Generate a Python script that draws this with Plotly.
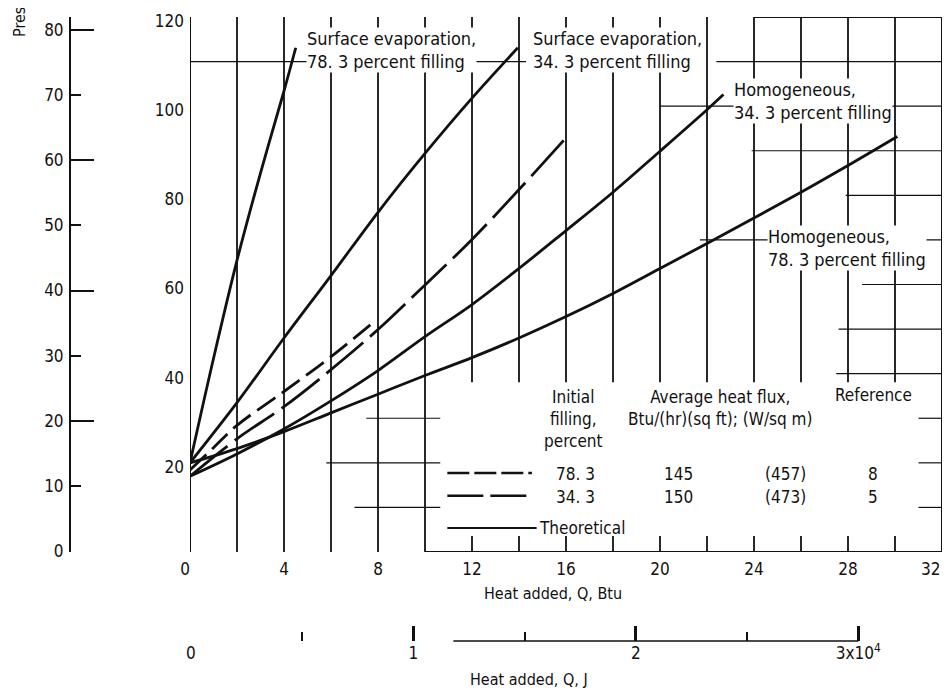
import plotly.graph_objects as go

# ---------------- data ----------------
# Theoretical curves (solid)
Q_surf_783 = [0, 1, 2, 3, 4, 4.5]
P_surf_783 = [20, 43.4, 65.4, 85, 103.4, 113.1]
Q_surf_343 = [0, 2, 4, 6, 8, 10, 12, 13.95]
P_surf_343 = [20, 33.5, 48, 62, 76.2, 89.4, 101.8, 113.1]
Q_homo_343 = [0, 2, 4, 6, 8, 10, 12, 14, 16, 18, 20, 22, 22.7]
P_homo_343 = [17, 22, 27.6, 33.9, 40.7, 48.3, 55.5, 63.6, 72.1, 80.7, 89.9, 99.2, 102.6]
Q_homo_783 = [0, 2, 4, 6, 8, 10, 12, 14, 16, 18, 20, 22, 24, 26, 28, 30.1]
P_homo_783 = [20, 23.2, 27, 31.2, 35.4, 39.6, 43.6, 48, 52.8, 58, 63.6, 69.2, 74.9, 80.7, 86.7, 93.2]
# Experimental curves (dashed)
Q_exp_783 = [0, 1, 2, 4, 6, 7.85]
P_exp_783 = [18.4, 23.4, 28.4, 36, 43.8, 51.7]
Q_exp_343 = [0, 2, 4, 6, 8, 10, 12, 14, 16]
P_exp_343 = [17, 25.4, 32.6, 40.9, 49.9, 59.9, 70.1, 81.3, 92.9]

x_ticks = [0, 4, 8, 12, 16, 20, 24, 28, 32]
x_tick_labels = ["0", "4", "8", "12", "16", "20", "24", "28", "32"]
y_ticks = [20, 40, 60, 80, 100, 120]
left_ticks = [0, 10, 20, 30, 40, 50, 60, 70, 80]
left_major = [0, 20, 40, 60, 80]
j_ticks = [0, 1, 2, 3]
j_labels = ["0", "1", "2", "3x10<sup>4</sup>"]
j_minor = [0.5, 1.5, 2.5]

legend_fill = ["78. 3", "34. 3"]
legend_flux_btu = ["145", "150"]
legend_flux_si = ["(457)", "(473)"]
legend_ref = ["8", "5"]

BTU_TO_J = 1055.06
X_MAX = 32
Y_MAX = 120

FONT = "DejaVu Sans Condensed, Liberation Sans Narrow, Roboto, sans-serif"
BLACK = "#111111"
NBSP = "\u00a0"

# page body has an 8px margin; size the figure to fill the rest of the window
OFF = 8
WIN_W, WIN_H = 951, 694
W, H = WIN_W - OFF, WIN_H - OFF


def px_x(px):
    """window pixel -> paper x"""
    return (px - OFF) / W


def px_y(py):
    """window pixel -> paper y"""
    return (WIN_H - py) / H


fig = go.Figure()

curve = dict(color=BLACK, width=2.8, shape="spline")
fig.add_trace(go.Scatter(x=Q_surf_783, y=P_surf_783, mode="lines", line=curve, showlegend=False))
fig.add_trace(go.Scatter(x=Q_surf_343, y=P_surf_343, mode="lines", line=curve, showlegend=False))
fig.add_trace(go.Scatter(x=Q_homo_343, y=P_homo_343, mode="lines", line=curve, showlegend=False))
fig.add_trace(go.Scatter(x=Q_homo_783, y=P_homo_783, mode="lines", line=curve, showlegend=False))
fig.add_trace(go.Scatter(x=Q_exp_783, y=P_exp_783, mode="lines",
                         line=dict(color=BLACK, width=2.8, dash="22px,8px", shape="spline"), showlegend=False))
fig.add_trace(go.Scatter(x=Q_exp_343, y=P_exp_343, mode="lines",
                         line=dict(color=BLACK, width=2.8, dash="48px,9px", shape="spline"), showlegend=False))

shapes = []
# vertical grid lines every 2 Btu
for gx in range(2, X_MAX, 2):
    shapes.append(dict(type="line", xref="x", yref="y", x0=gx, x1=gx, y0=0, y1=Y_MAX,
                       line=dict(color=BLACK, width=1.8), layer="below"))
# left axis and right border
shapes.append(dict(type="line", xref="x", yref="y", x0=0, x1=0, y0=0, y1=Y_MAX,
                   line=dict(color=BLACK, width=2), layer="below"))
shapes.append(dict(type="line", xref="x", yref="y", x0=X_MAX, x1=X_MAX, y0=0, y1=Y_MAX,
                   line=dict(color=BLACK, width=2), layer="below"))
# white area behind the legend table
shapes.append(dict(type="rect", xref="x", yref="y", x0=10.65, x1=31.0, y0=3.6, y1=38.1,
                   fillcolor="white", line=dict(width=0), layer="below"))
# partial horizontal grid lines (as printed)
hsegs = [(120, 24.0, 32), (110, 0, 14.3), (110, 22.4, 32), (100, 20, 32), (90, 23.9, 32),
         (80, 27.9, 32), (70, 21.7, 32), (60, 28.6, 32), (50, 27.6, 32), (40, 27.5, 32),
         (30, 7.5, 10.65), (30, 31.0, 32), (20, 5.8, 10.65), (20, 31.0, 32),
         (10, 7.0, 10.65), (10, 31.0, 32)]
for yy, a, b in hsegs:
    w = 2 if yy == 120 else 1.2
    shapes.append(dict(type="line", xref="x", yref="y", x0=a, x1=b, y0=yy, y1=yy,
                       line=dict(color=BLACK, width=w), layer="below"))
# bottom border
shapes.append(dict(type="line", xref="x", yref="y", x0=10, x1=X_MAX, y0=0, y1=0,
                   line=dict(color=BLACK, width=2), layer="below"))
# legend sample lines
shapes.append(dict(type="line", xref="x", yref="y", x0=10.95, x1=14.55, y0=17.7, y1=17.7,
                   line=dict(color=BLACK, width=2.5, dash="22px,5px")))
shapes.append(dict(type="line", xref="x", yref="y", x0=10.95, x1=14.55, y0=12.6, y1=12.6,
                   line=dict(color=BLACK, width=2.5, dash="36px,7px")))
shapes.append(dict(type="line", xref="x", yref="y", x0=10.95, x1=14.75, y0=5.4, y1=5.4,
                   line=dict(color=BLACK, width=2)))
# Joule scale line (partial, as printed)
J_LINE_Y = px_y(641)
shapes.append(dict(type="line", xref="x2", yref="paper", x0=1.18, x1=3.0, y0=J_LINE_Y, y1=J_LINE_Y,
                   line=dict(color=BLACK, width=1.5)))

fig.update_layout(shapes=shapes)

ann = []


def label(text, x, y, anchor="left", size=18, bg="white"):
    ann.append(dict(text=text, x=x, y=y, xref="x", yref="y", showarrow=False,
                    xanchor=anchor, yanchor="middle", align=anchor,
                    font=dict(family=FONT, size=size, color=BLACK), bgcolor=bg, borderpad=0))


label("Surface evaporation,<br>78. 3 percent filling", 4.95, 112.6)
label("Surface evaporation,<br>34. 3 percent filling", 14.55, 112.6)
label("Homogeneous,<br>34. 3 percent filling", 23.1, 101.2)
label("Homogeneous,<br>78. 3 percent filling", 24.55, 68.2)

label("Initial<br>filling,<br>percent", 16.3, 29.8, anchor="center", size=17, bg=None)
label("Average heat flux,<br>Btu/(hr)(sq ft); (W/sq m)", 22.55, 32.4, anchor="center", size=17, bg=None)
label("Reference", 29.1, 35.2, anchor="center", size=17, bg=None)
rows_y = [17.5, 12.3]
for i in range(2):
    label(legend_fill[i], 16.4, rows_y[i], anchor="center", size=17, bg=None)
    label(legend_flux_btu[i], 20.8, rows_y[i], anchor="center", size=17, bg=None)
    label(legend_flux_si[i], 25.35, rows_y[i], anchor="center", size=17, bg=None)
    label(legend_ref[i], 29.05, rows_y[i], anchor="center", size=17, bg=None)
label("Theoretical", 14.8, 5.4, anchor="left", size=17, bg=None)

# last x tick label sits inside the right edge, as printed
ann.append(dict(text=x_tick_labels[-1], x=x_ticks[-1], y=px_y(569), xref="x", yref="paper",
                showarrow=False, xanchor="right", yanchor="middle",
                font=dict(family=FONT, size=17, color=BLACK)))

# axis titles
ann.append(dict(text="Heat added, Q, Btu", x=px_x(553), y=px_y(593),
                xref="paper", yref="paper", showarrow=False, xanchor="center", yanchor="middle",
                font=dict(family=FONT, size=16, color=BLACK)))
ann.append(dict(text="Heat added, Q, J", x=px_x(529), y=px_y(679),
                xref="paper", yref="paper", showarrow=False, xanchor="center", yanchor="middle",
                font=dict(family=FONT, size=16, color=BLACK)))
ann.append(dict(text="Pres", x=px_x(19), y=px_y(22), xref="paper", yref="paper",
                showarrow=False, xanchor="center", yanchor="middle",
                textangle=-90, font=dict(family=FONT, size=16, color=BLACK)))
fig.update_layout(annotations=ann)

# axis-drawn labels (first one nudged inward as printed; last one drawn as annotation above)
axis_x_vals = x_ticks[:-1]
axis_x_text = list(x_tick_labels[:-1])
axis_x_text[0] = axis_x_text[0] + NBSP * 2

tickfont = dict(family=FONT, size=17, color=BLACK)
LEFT_RANGE = [-0.15, 82.0]
J_MAX = X_MAX * BTU_TO_J / 1e4
fig.update_layout(
    width=W, height=H,
    margin=dict(l=0, r=0, t=0, b=0, autoexpand=False),
    paper_bgcolor="white", plot_bgcolor="white",
    xaxis=dict(domain=[px_x(190), px_x(942)], range=[0, X_MAX], tickvals=axis_x_vals,
               ticktext=axis_x_text,
               showgrid=False, zeroline=False, anchor="y", automargin=False,
               showline=False, ticks="", tickfont=tickfont, ticklabelstandoff=5,
               ticklabeloverflow="allow"),
    yaxis=dict(domain=[px_y(552), px_y(17)], range=[0, Y_MAX], tickvals=y_ticks,
               showgrid=False, zeroline=False, anchor="x", automargin=False,
               showline=False, ticks="", tickfont=tickfont, ticklabelstandoff=5,
               ticklabelshift=4, ticklabeloverflow="allow"),
    yaxis2=dict(overlaying="y", anchor="free", position=px_x(70), side="left",
                range=LEFT_RANGE, tickvals=left_ticks, ticks="inside", ticklen=10,
                tickwidth=2, tickcolor=BLACK, showline=True, linecolor=BLACK, linewidth=2,
                showgrid=False, zeroline=False, tickfont=tickfont, ticklabelstandoff=2,
                automargin=False, ticklabeloverflow="allow"),
    yaxis3=dict(overlaying="y", anchor="free", position=px_x(70), side="left",
                range=LEFT_RANGE, tickvals=left_major, ticks="inside", ticklen=23,
                tickwidth=2, tickcolor=BLACK, showline=False, showgrid=False,
                zeroline=False, showticklabels=False, automargin=False),
    xaxis2=dict(overlaying="x", anchor="free", position=J_LINE_Y, side="bottom",
                range=[-0.004, J_MAX], tickvals=j_ticks, ticktext=j_labels,
                ticks="inside", ticklen=15, tickwidth=2.5, tickcolor=BLACK,
                minor=dict(tickvals=j_minor, ticks="inside", ticklen=9, tickwidth=1.5, tickcolor=BLACK),
                showline=False, showgrid=False, zeroline=False, tickfont=tickfont,
                automargin=False, ticklabeloverflow="allow"),
)
# invisible traces to activate the secondary axes
fig.add_trace(go.Scatter(x=[None], y=[None], yaxis="y2", showlegend=False, hoverinfo="skip"))
fig.add_trace(go.Scatter(x=[None], y=[None], yaxis="y3", showlegend=False, hoverinfo="skip"))
fig.add_trace(go.Scatter(x=[None], y=[None], xaxis="x2", showlegend=False, hoverinfo="skip"))

fig.write_html("out.html")
